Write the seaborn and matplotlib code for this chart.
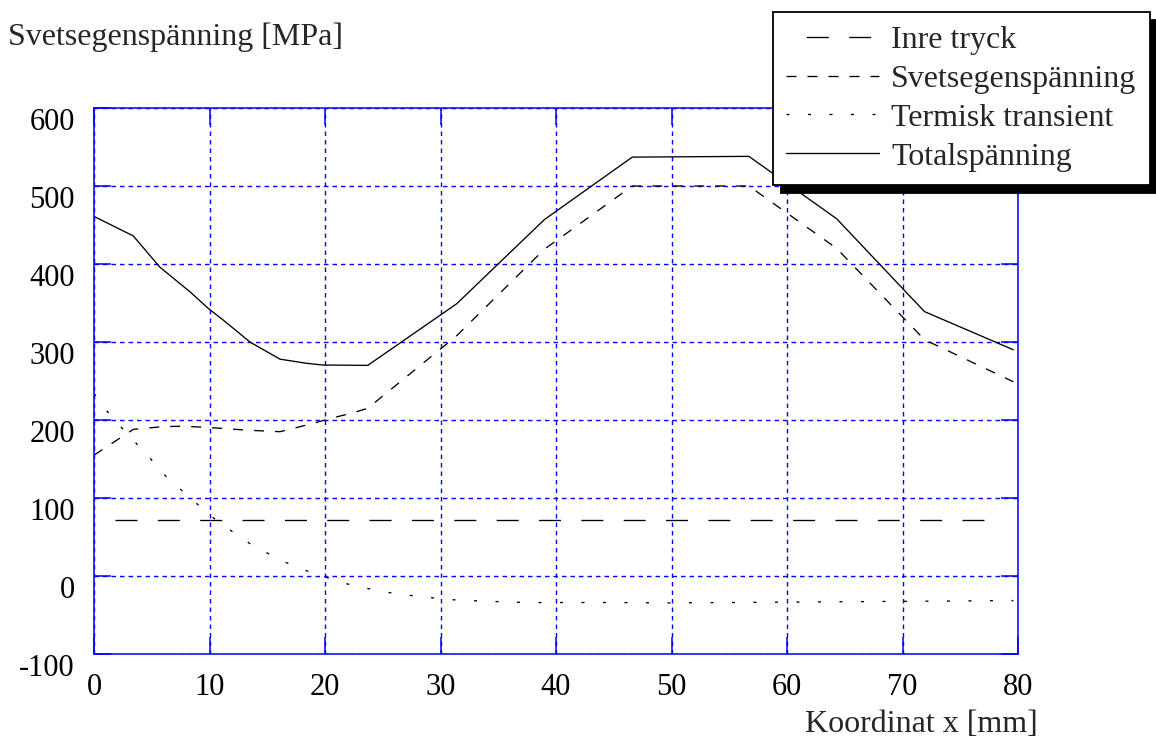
import numpy as np
import pandas as pd
import matplotlib
matplotlib.use("Agg")
import matplotlib.pyplot as plt
from matplotlib.patches import Shadow
import seaborn as sns

# ---------------- data ----------------
x_inre = [1.8, 77.2]
y_inre = [72, 72]

x_svets = [0, 3.4, 6.0, 7.7, 9.9, 11.3, 13.2, 16.1, 18.8, 20.5, 22.5, 23.7,
           31.4, 39.0, 46.6, 56.7, 64.3, 71.9, 79.6]
y_svets = [155, 188, 191.5, 192, 190.5, 189, 187, 185, 195, 202, 209.6, 215,
           308, 419, 500, 500, 420, 303, 249]

x_term = [0, 1.5, 3.1, 4.85, 6.4, 8.5, 10.2, 12.1, 13.8, 15.8, 17.5, 19.6,
          21.3, 23.2, 25.0, 26.8, 28.7, 30.5, 32.4, 34.3, 36.0, 38.0, 45.0,
          50.0, 55.0, 60.0, 65.0, 70.0, 75.0, 79.6]
y_term = [234, 204, 179, 151, 125, 98, 76, 55.5, 38.5, 23.5, 11, 1,
          -8, -14.5, -20, -24, -27, -30, -31.5, -32.5, -33.5, -34, -34,
          -34.5, -34, -33.5, -33, -32.5, -32, -31.5]

x_total = [0, 3.4, 5.7, 8.3, 9.9, 11.2, 13.5, 16.1, 18.4, 19.8, 23.7, 31.4,
           39.0, 46.6, 56.7, 64.3, 71.9, 79.6]
y_total = [461, 436, 396, 364.5, 343, 328, 300, 278, 272.7, 270.5, 270, 349,
           457, 537, 538, 458, 339, 290]

series_labels = ["Inre tryck", "Svetsegenspänning", "Termisk transient", "Totalspänning"]
x_ticks = [0, 10, 20, 30, 40, 50, 60, 70, 80]
y_ticks = [-100, 0, 100, 200, 300, 400, 500, 600]
y_tick_labels = ["-100", "0", "100", "200", "300", "400", "500", "600"]
x_label = "Koordinat x [mm]"
y_label = "Svetsegenspänning [MPa]"

# ---------------- style ----------------
sns.set_style("white")
plt.rcParams["font.family"] = ["Liberation Serif", "DejaVu Serif"]
plt.rcParams["axes.unicode_minus"] = False
plt.rcParams["lines.scale_dashes"] = False

W, H = 1156, 738
fig = plt.figure(figsize=(W / 100, H / 100), dpi=100)
ax = fig.add_axes([94 / W, (H - 654) / H, (1018 - 94) / W, (654 - 108) / H])

px = 0.72  # points per pixel
FS_TICK = 22
FS_TXT = 23
blue = "#0000ff"

inre_on, inre_off = 22 * px, 20.35 * px
styles = [
    (0, (inre_on, inre_off)),       # Inre tryck
    (0, (10 * px, 11 * px)),        # Svetsegenspänning
    (0, (3 * px, 18.5 * px)),       # Termisk transient
    "solid",                        # Totalspänning
]
xs = [x_inre, x_svets, x_term, x_total]
ys = [y_inre, y_svets, y_term, y_total]

handles = []
for xv, yv, ls, lab in zip(xs, ys, styles, series_labels):
    df = pd.DataFrame({"x": xv, "y": yv})
    sns.lineplot(data=df, x="x", y="y", ax=ax, color="black", lw=0.95,
                 linestyle=ls, sort=False, estimator=None, legend=False)
    handles.append(ax.lines[-1])

ax.set_xlim(0, 80)
ax.set_ylim(-100, 600)
ax.set_xticks(x_ticks)
ax.set_xticklabels([str(v) for v in x_ticks])
ax.set_yticks(y_ticks)
ax.set_yticklabels(y_tick_labels)
ax.set_xlabel("")
ax.set_ylabel("")

ax.grid(True, color=blue, lw=1.0, linestyle=(0, (4.5 * px, 4 * px)))
ax.set_axisbelow(True)
for sp in ax.spines.values():
    sp.set_visible(True)
    sp.set_color(blue)
    sp.set_linewidth(1.1)

ax.tick_params(axis="both", which="major", direction="in", length=12.2,
               width=1.1, color=blue, labelsize=FS_TICK, labelcolor="black",
               top=True, right=True, bottom=True, left=True)
ax.tick_params(axis="x", pad=13.5)
ax.tick_params(axis="y", pad=13.7)
for lbl in ax.get_yticklabels():
    lbl.set_verticalalignment("top")

fig.text(8 / W, 1 - 45 / H, y_label, fontsize=FS_TXT, ha="left", va="baseline")
fig.text(1038 / W, 1 - 732 / H, x_label, fontsize=FS_TXT, ha="right", va="baseline")

leg = ax.legend(handles, series_labels, loc="upper left",
                bbox_to_anchor=(773 / W, 1 - 12 / H),
                bbox_transform=fig.transFigure, borderaxespad=0,
                frameon=True, fancybox=False, framealpha=1, edgecolor="black",
                fontsize=FS_TXT, handlelength=2.9, handletextpad=0.38,
                labelspacing=0.3, borderpad=0.42)
leg.get_frame().set_linewidth(1.3)
leg.set_zorder(6)
# legend sample of the long-dash line starts with a gap, as in the original
leg.get_lines()[0].set_linestyle((inre_on, (inre_on, inre_off)))

shadow = Shadow(leg.get_frame(), 8 * px, -8 * px, facecolor="black",
                edgecolor="black", alpha=1)
ax.add_artist(shadow)
shadow.set_clip_on(False)
shadow.set_zorder(5.5)

fig.canvas.draw()
fig.savefig("out.png", dpi=100, facecolor="white")
